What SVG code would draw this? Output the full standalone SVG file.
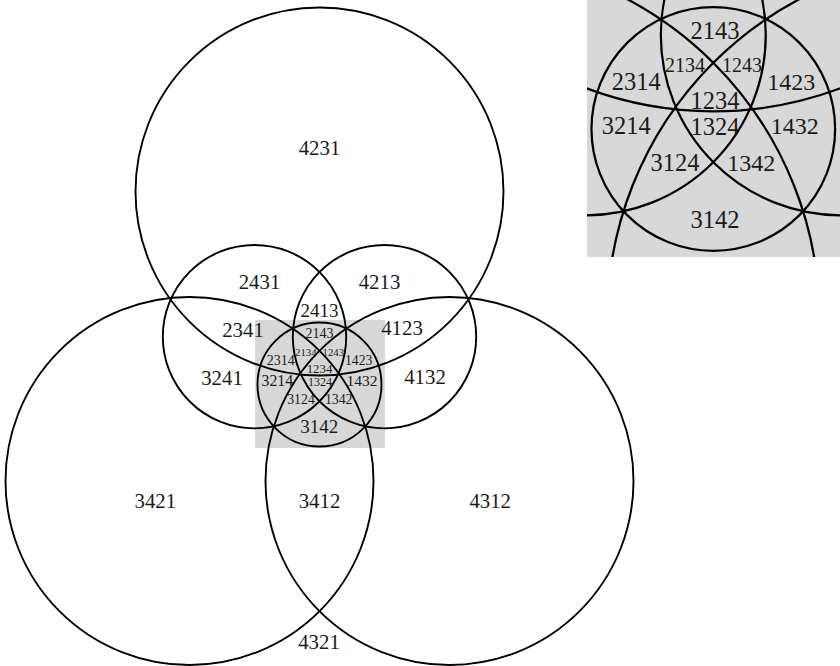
<svg xmlns="http://www.w3.org/2000/svg" width="840" height="666" viewBox="0 0 840 666">
<style>
  .c { fill: none; stroke: #000; stroke-width: 1.9; }
  .ci { fill: none; stroke: #000; stroke-width: 1.15; }
  .t { font-family: "Liberation Serif", "DejaVu Serif", serif; fill: #1a1a1a; text-anchor: middle; dominant-baseline: central; }
  .bg { fill: #d8d8d8; }
</style>
<defs>
  <clipPath id="insetClip"><rect x="587" y="0" width="253" height="257"/></clipPath>
  <g id="curves">
    <circle cx="319.5" cy="191.5" r="184"/>
    <circle cx="189.5" cy="481" r="184"/>
    <circle cx="449.5" cy="481" r="184"/>
    <circle cx="254.5" cy="336.7" r="91.7"/>
    <circle cx="384.5" cy="336.7" r="91.7"/>
    <circle cx="319.5" cy="384.5" r="62"/>
  </g>
</defs>
<rect width="840" height="666" fill="#fff"/>
<g id="main">
  <rect class="bg" x="255" y="320" width="130" height="128"/>
  <use href="#curves" class="c"/>
  <g id="labels-main">
    <text class="t" x="319.5" y="147.7" font-size="20.8">4231</text>
    <text class="t" x="259.5" y="281.7" font-size="20.8">2431</text>
    <text class="t" x="379.5" y="281.7" font-size="20.8">4213</text>
    <text class="t" x="243" y="329.5" font-size="20.8">2341</text>
    <text class="t" x="402" y="327.7" font-size="20.8">4123</text>
    <text class="t" x="222" y="377.3" font-size="20.8">3241</text>
    <text class="t" x="425" y="376.7" font-size="20.8">4132</text>
    <text class="t" x="155.3" y="500" font-size="20.8">3421</text>
    <text class="t" x="319.5" y="500" font-size="20.8">3412</text>
    <text class="t" x="490.2" y="500" font-size="20.8">4312</text>
    <text class="t" x="319" y="641" font-size="20.8">4321</text>
    <text class="t" x="319.5" y="310.7" font-size="19">2413</text>
    <text class="t" x="319.5" y="333.3" font-size="14">2143</text>
    <text class="t" x="305.8" y="351.7" font-size="10.8">2134</text>
    <text class="t" x="333.3" y="351.7" font-size="10.8">1243</text>
    <text class="t" x="280.8" y="360" font-size="14">2314</text>
    <text class="t" x="358.7" y="360" font-size="13.7">1423</text>
    <text class="t" x="319.5" y="369.3" font-size="12.8">1234</text>
    <text class="t" x="277.3" y="380" font-size="15.8">3214</text>
    <text class="t" x="320" y="381.7" font-size="12">1324</text>
    <text class="t" x="362" y="380" font-size="15.5">1432</text>
    <text class="t" x="301" y="399.3" font-size="13.8">3124</text>
    <text class="t" x="338.7" y="399.3" font-size="13.8">1342</text>
    <text class="t" x="319.3" y="426.7" font-size="19">3142</text>
  </g>
</g>
<g id="inset">
  <rect class="bg" x="587" y="0" width="253" height="257"/>
  <g clip-path="url(#insetClip)">
    <g transform="translate(713.3,129) scale(1.965) translate(-319.5,-384.5)">
      <use href="#curves" class="ci"/>
    </g>
  </g>
  <g id="labels-inset">
    <text class="t" x="715" y="30.7" font-size="24.5">2143</text>
    <text class="t" x="685" y="65" font-size="20">2134</text>
    <text class="t" x="742" y="65" font-size="20">1243</text>
    <text class="t" x="636.3" y="81.7" font-size="24.5">2314</text>
    <text class="t" x="791.3" y="81.7" font-size="24">1423</text>
    <text class="t" x="715" y="100" font-size="24.5">1234</text>
    <text class="t" x="626.2" y="125" font-size="24.5">3214</text>
    <text class="t" x="715" y="126" font-size="24.5">1324</text>
    <text class="t" x="794.7" y="126" font-size="24">1432</text>
    <text class="t" x="675" y="162.7" font-size="24.5">3124</text>
    <text class="t" x="751.3" y="162.7" font-size="24">1342</text>
    <text class="t" x="715" y="219.3" font-size="24.5">3142</text>
  </g>
</g>
</svg>
